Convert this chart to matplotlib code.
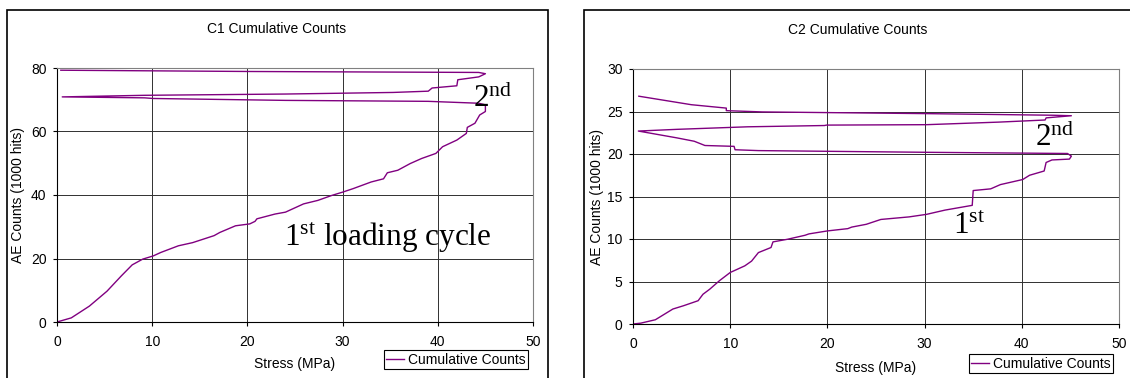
"""Cumulative AE counts vs stress for specimens C1 and C2."""

import matplotlib
matplotlib.use("Agg")
import matplotlib.pyplot as plt
from matplotlib.patches import Rectangle

plt.rcParams["font.family"] = ["Liberation Sans", "DejaVu Sans"]
plt.rcParams["mathtext.fontset"] = "custom"
plt.rcParams["mathtext.rm"] = "Liberation Serif"

LINE_COLOR = "#800080"
GRID_COLOR = "#303030"
SERIES_LABEL = "Cumulative Counts"

# C1: stress (MPa) and AE counts (1000 hits), two loading cycles
c1_stress = [0, 1.5, 3.4, 5.25, 6.75, 7.9, 9.0, 10.1, 10.9, 12.75, 14.25, 16.5,
             17.1, 18.75, 20.25, 20.8, 21.0, 22.9, 24.0, 25.9, 27.4, 28.9, 30.0,
             31.1, 33.0, 34.3, 34.7, 35.8, 37.1, 38.3, 39.8, 40.5, 42.0, 43.0,
             43.1, 43.9, 44.4, 45.0, 45.0,
             44.3, 39.0, 24.0, 10.1, 9.2, 6.4, 0.55,
             9.2, 24.0, 35.3, 39.0, 39.4, 42.0, 42.1, 44.3, 45.0,
             44.3, 20.3, 0.4]
c1_counts = [0, 1.3, 5.0, 9.7, 14.5, 18.0, 19.8, 20.8, 21.9, 24.0, 25.0, 27.2,
             28.2, 30.3, 30.9, 31.7, 32.5, 34.0, 34.6, 37.2, 38.3, 39.9, 40.9,
             42.0, 44.1, 45.1, 47.0, 47.8, 49.9, 51.5, 53.1, 55.2, 57.3, 59.4,
             61.3, 62.6, 65.2, 66.3, 68.4,
             68.9, 69.5, 69.8, 70.4, 70.6, 70.7, 70.9,
             71.4, 71.8, 72.3, 72.7, 73.7, 74.4, 76.3, 77.2, 78.2,
             78.6, 78.9, 79.3]

# C2: stress (MPa) and AE counts (1000 hits)
c2_stress = [0, 0.8, 2.3, 4.1, 5.2, 6.7, 7.2, 7.9, 8.9, 10.0, 11.5, 12.2, 12.9,
             14.2, 14.4, 15.9, 17.7, 18.1, 20.0, 22.1, 22.5, 24.0, 25.5, 28.4,
             30.2, 32.1, 34.9, 35.0, 36.8, 37.8, 40.1, 40.8, 42.3, 42.5, 43.1,
             44.9, 45.1, 44.7,
             30.2, 12.9, 10.5, 10.4, 7.4, 6.3, 4.5, 0.55,
             4.5, 11.8, 19.7, 19.9, 30.2, 37.6, 42.4, 42.5, 45.1,
             43.2, 30.2, 13.3, 9.6, 9.6, 6.0, 0.6]
c2_counts = [0, 0.1, 0.5, 1.76, 2.15, 2.74, 3.5, 4.1, 5.1, 6.06, 6.84, 7.4, 8.4,
             9.0, 9.66, 9.97, 10.44, 10.6, 10.95, 11.22, 11.4, 11.73, 12.3, 12.6,
             12.9, 13.4, 13.96, 15.7, 15.9, 16.4, 17.0, 17.5, 18.0, 19.0, 19.3,
             19.4, 19.75, 20.06,
             20.2, 20.4, 20.5, 20.9, 21.0, 21.5, 21.9, 22.7,
             22.9, 23.2, 23.35, 23.4, 23.45, 23.75, 24.0, 24.25, 24.5,
             24.56, 24.75, 24.95, 25.1, 25.4, 25.8, 26.8]

# layout in pixels of the 1130x378 canvas
PANELS = [
    dict(title="C1 Cumulative Counts", x=c1_stress, y=c1_counts,
         rect=[57, 68, 533, 322], frame=[7, 10, 548],
         ymax=80, ystep=20,
         notes=[(43.7, 67.6, r"$\mathregular{2^{nd}}$"),
                (23.8, 24.0, r"$\mathregular{1^{st}}$ loading cycle")],
         legend=(383, 349, 529, 370), title_xy=(277, 29), xlab=(295, 364),
         ylab=(18, 195)),
    dict(title="C2 Cumulative Counts", x=c2_stress, y=c2_counts,
         rect=[633, 69, 1119, 324], frame=[584, 10, 1140],
         ymax=30, ystep=5,
         notes=[(41.4, 20.9, r"$\mathregular{2^{nd}}$"),
                (32.9, 10.56, r"$\mathregular{1^{st}}$")],
         legend=(966, 353, 1116, 374), title_xy=(858, 30), xlab=(876, 368),
         ylab=(597, 197)),
]

W, H = 1130, 378
FS = 10
fig = plt.figure(figsize=(W / 100, H / 100), dpi=100)

for p in PANELS:
    x0, y0, x1, y1 = p["rect"]
    ax = fig.add_axes([x0 / W, 1 - y1 / H, (x1 - x0) / W, (y1 - y0) / H])
    ax.plot(p["x"], p["y"], color=LINE_COLOR, lw=1.0, label=SERIES_LABEL)
    ax.set_xlim(0, 50)
    ax.set_ylim(0, p["ymax"])
    ax.set_xticks(range(0, 51, 10))
    ax.set_yticks(range(0, p["ymax"] + 1, p["ystep"]))
    ax.tick_params(labelsize=FS, length=3, width=0.8, colors="black")
    ax.tick_params(axis="x", pad=6)
    ax.tick_params(axis="y", pad=4.5)
    ax.grid(True, color=GRID_COLOR, lw=0.7)
    for side in ("left", "bottom"):
        ax.spines[side].set_color("black")
    for side in ("top", "right"):
        ax.spines[side].set_color("#808080")

    for nx, ny, txt in p["notes"]:
        ax.text(nx, ny, txt, fontsize=22.5, family="Liberation Serif",
                ha="left", va="baseline", color="black")

    fx0, fy0, fx1 = p["frame"]
    fig.patches.append(Rectangle((fx0 / W, -0.1), (fx1 - fx0) / W,
                                 1.1 - fy0 / H, transform=fig.transFigure,
                                 fill=False, edgecolor="black", lw=1.2))

    fig.text(p["title_xy"][0] / W, 1 - p["title_xy"][1] / H, p["title"],
             ha="center", va="center", fontsize=FS)
    fig.text(p["xlab"][0] / W, 1 - p["xlab"][1] / H, "Stress (MPa)",
             ha="center", va="center", fontsize=FS)
    fig.text(p["ylab"][0] / W, 1 - p["ylab"][1] / H, "AE Counts (1000 hits)",
             ha="center", va="center", rotation=90, fontsize=FS)

    lx0, ly0, lx1, ly1 = p["legend"]
    leg = ax.legend(loc="center",
                    bbox_to_anchor=(lx0 / W, 1 - ly1 / H, (lx1 - lx0) / W,
                                    (ly1 - ly0) / H),
                    bbox_transform=fig.transFigure, fontsize=FS,
                    fancybox=False, framealpha=1, edgecolor="black",
                    borderpad=0.15, handlelength=1.3, handletextpad=0.3,
                    borderaxespad=0)
    leg.get_frame().set_linewidth(0.8)

fig.savefig("out.png", dpi=100)
